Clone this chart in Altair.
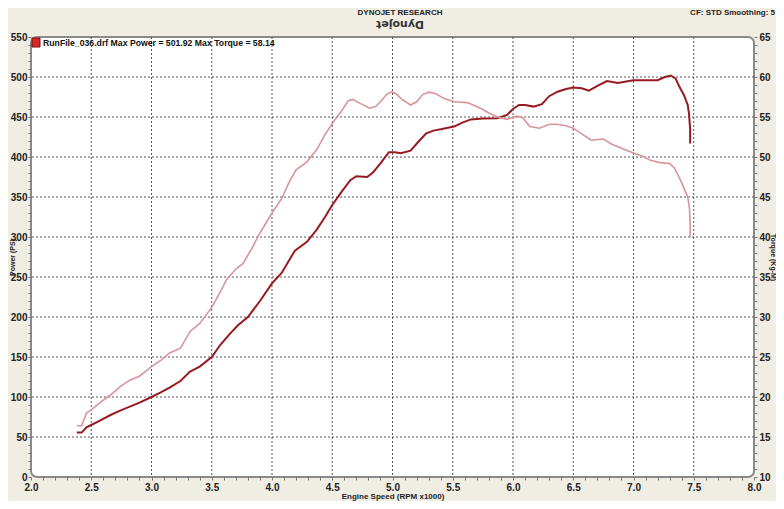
import altair as alt
import pandas as pd

# ---- data ----
power_rpm = [2.38, 2.42, 2.46, 2.50, 2.58, 2.66, 2.74, 2.82, 2.90, 3.00, 3.08, 3.15, 3.24, 3.32, 3.40,
             3.50, 3.57, 3.65, 3.72, 3.80, 3.90, 4.00, 4.08, 4.19, 4.29, 4.37, 4.44, 4.50, 4.58, 4.65,
             4.70, 4.79, 4.84, 4.90, 4.97, 5.02, 5.07, 5.15, 5.22, 5.28, 5.34, 5.40, 5.51, 5.58, 5.65,
             5.75, 5.87, 5.95, 6.00, 6.05, 6.10, 6.17, 6.24, 6.30, 6.37, 6.44, 6.50, 6.57, 6.63, 6.70,
             6.78, 6.87, 7.00, 7.10, 7.20, 7.26, 7.31, 7.35, 7.38, 7.42, 7.45, 7.46, 7.47, 7.47]
power_ps = [55.5, 55.5, 62, 65, 71, 77.5, 83, 88, 93, 100, 106, 111.7, 120, 131.7, 138,
            150, 165, 179, 190, 200, 220, 242, 255, 283, 294, 309, 325, 340, 357, 371,
            376, 375, 381, 392, 406, 406, 404.6, 408, 420, 429.6, 433, 434.6, 438, 443, 447,
            448, 448.4, 452.5, 460, 465, 465, 463, 466, 476, 481.6, 485, 487, 486, 483, 489,
            495, 492.6, 496, 496, 496, 500, 501.9, 498, 488, 477, 465, 455, 435, 417]

torque_rpm = [2.38, 2.42, 2.46, 2.50, 2.58, 2.66, 2.74, 2.82, 2.90, 3.00, 3.08, 3.15, 3.24, 3.32, 3.40,
              3.50, 3.58, 3.62, 3.70, 3.76, 3.83, 3.90, 4.00, 4.08, 4.14, 4.20, 4.29, 4.37, 4.44, 4.51,
              4.58, 4.63, 4.67, 4.72, 4.81, 4.86, 4.90, 4.95, 4.99, 5.03, 5.07, 5.15, 5.20, 5.25, 5.30,
              5.36, 5.43, 5.51, 5.62, 5.67, 5.73, 5.80, 5.87, 5.95, 6.03, 6.08, 6.14, 6.22, 6.30, 6.36,
              6.44, 6.50, 6.58, 6.65, 6.75, 6.82, 6.90, 7.00, 7.06, 7.14, 7.22, 7.30, 7.34, 7.39, 7.43,
              7.45, 7.465, 7.47, 7.47]
torque_kgm = [16.4, 16.4, 18.0, 18.4, 19.4, 20.25, 21.3, 22.1, 22.6, 23.8, 24.6, 25.5, 26.1, 28.2, 29.2,
              31.2, 33.4, 34.6, 36.0, 36.7, 38.5, 40.5, 43.0, 44.8, 46.8, 48.4, 49.4, 50.9, 52.8, 54.4,
              55.8, 57.0, 57.2, 56.8, 56.1, 56.3, 56.9, 57.8, 58.14, 57.9, 57.3, 56.5, 56.9, 57.8, 58.1,
              57.9, 57.3, 56.9, 56.8, 56.5, 56.1, 55.5, 55.0, 54.7, 55.1, 54.9, 53.8, 53.6, 54.1, 54.1,
              53.9, 53.6, 52.8, 52.1, 52.25, 51.6, 51.1, 50.5, 50.2, 49.6, 49.3, 49.2, 48.6, 47.1, 45.7,
              45.0, 43.5, 41.5, 40.0]

x_grid = [2.5, 3.0, 3.5, 4.0, 4.5, 5.0, 5.5, 6.0, 6.5, 7.0, 7.5]
y_grid = [50, 100, 150, 200, 250, 300, 350, 400, 450, 500]
x_ticks = [round(2.0 + i * 0.1, 1) for i in range(61)]
power_ticks = list(range(0, 551, 10))
torque_ticks = list(range(10, 66, 1))

legend_text = "RunFile_036.drf Max Power = 501.92 Max Torque = 58.14"

# ---- tables ----
power_df = pd.DataFrame({"rpm": power_rpm, "val": power_ps, "i": range(len(power_rpm))})
torque_df = pd.DataFrame({"rpm": torque_rpm, "val": torque_kgm, "i": range(len(torque_rpm))})
xg_df = pd.DataFrame({"rpm": x_grid})
yg_df = pd.DataFrame({"val": y_grid})

FONT = "Liberation Sans"
W, H = 723, 440

x_scale = alt.Scale(domain=[2.0, 8.0], nice=False, zero=False)
x_axis = alt.Axis(values=x_ticks, grid=False, domain=False, tickSize=3, tickColor="#777",
                  labelExpr="abs(datum.value*2 - round(datum.value*2)) < 0.001 ? format(datum.value, '.1f') : ''",
                  labelFont=FONT, labelFontWeight="bold", labelFontSize=10, labelColor="#222",
                  labelPadding=2, labelFlush=False, labelOverlap=False,
                  title="Engine Speed (RPM x1000)", titleFont=FONT, titleFontWeight="bold",
                  titleFontSize=8, titleColor="#222", titlePadding=0)
p_scale = alt.Scale(domain=[0, 550], nice=False)
p_axis = alt.Axis(values=power_ticks, grid=False, domain=False, tickSize=3, tickColor="#777",
                  labelExpr="datum.value % 50 == 0 ? datum.label : ''",
                  labelFont=FONT, labelFontWeight="bold", labelFontSize=10, labelColor="#222",
                  labelPadding=1, labelFlush=False, labelOverlap=False,
                  title="Power (PS)", titleFont=FONT, titleFontWeight="bold", titleFontSize=7,
                  titleColor="#222", titleAngle=270, titleX=-19, titleY=H / 2,
                  titleAlign="center", titleBaseline="middle")
t_scale = alt.Scale(domain=[10, 65], nice=False, zero=False)
t_axis = alt.Axis(values=torque_ticks, grid=False, domain=False, tickSize=3, tickColor="#777",
                  orient="right",
                  labelExpr="datum.value % 5 == 0 ? datum.label : ''",
                  labelFont=FONT, labelFontWeight="bold", labelFontSize=10, labelColor="#222",
                  labelPadding=2, labelFlush=False, labelOverlap=False,
                  title="Torque (Kg-M)", titleFont=FONT, titleFontWeight="bold", titleFontSize=7,
                  titleColor="#222", titleAngle=90, titleX=18, titleY=H / 2,
                  titleAlign="center", titleBaseline="middle")

grid_style = dict(color="#555", strokeDash=[2, 2], strokeWidth=1)

vgrid = alt.Chart(xg_df).mark_rule(**grid_style).encode(
    x=alt.X("rpm:Q", scale=x_scale, axis=x_axis))
hgrid = alt.Chart(yg_df).mark_rule(**grid_style).encode(
    y=alt.Y("val:Q", scale=p_scale, axis=p_axis))

power_line = alt.Chart(power_df).mark_line(color="#961a20", strokeWidth=2).encode(
    x=alt.X("rpm:Q", scale=x_scale, axis=x_axis),
    y=alt.Y("val:Q", scale=p_scale, axis=p_axis),
    order="i:Q")

torque_line = alt.Chart(torque_df).mark_line(color="#d99499", strokeWidth=1.6).encode(
    x=alt.X("rpm:Q", scale=x_scale, axis=x_axis),
    y=alt.Y("val:Q", scale=t_scale, axis=t_axis),
    order="i:Q")

left = alt.layer(vgrid, hgrid, power_line)

# decorations
deco_df = pd.DataFrame({"k": [0]})
legend_box = alt.Chart(deco_df).mark_rect(color="#d92626", stroke="#7a1010", strokeWidth=1).encode(
    x=alt.value(1), x2=alt.value(9), y=alt.value(1), y2=alt.value(10))
legend_lbl = alt.Chart(deco_df).mark_text(
    text=legend_text, font=FONT, fontWeight="bold", fontSize=8.7, align="left",
    baseline="middle", color="#111").encode(x=alt.value(12), y=alt.value(6))
title_txt = alt.Chart(deco_df).mark_text(
    text="DYNOJET RESEARCH", font=FONT, fontWeight="bold", fontSize=8, align="center",
    baseline="middle", color="#222").encode(x=alt.value(369), y=alt.value(-24))
cf_txt = alt.Chart(deco_df).mark_text(
    text="CF: STD  Smoothing: 5", font=FONT, fontWeight="bold", fontSize=8, align="right",
    baseline="middle", color="#222").encode(x=alt.value(744), y=alt.value(-24))
logo_txt = alt.Chart(deco_df).mark_text(
    text="Dynojet", font="DejaVu Sans", fontWeight="bold", fontSize=11, align="center",
    baseline="middle", color="#333", angle=180).encode(x=alt.value(369), y=alt.value(-13))

deco = alt.layer(legend_box, legend_lbl, title_txt, cf_txt, logo_txt)

chart = alt.layer(left, torque_line, deco).resolve_scale(y="independent").properties(
    width=W, height=H,
    autosize=alt.AutoSizeParams(type="none"),
    padding={"left": 23, "top": 29, "right": 22, "bottom": 24},
    background="#f0ede2",
).configure_view(
    fill="white", stroke="#8a8a8a", strokeWidth=2, cornerRadius=6
)

chart.save("out.html", embed_options={"renderer": "svg", "actions": False})
